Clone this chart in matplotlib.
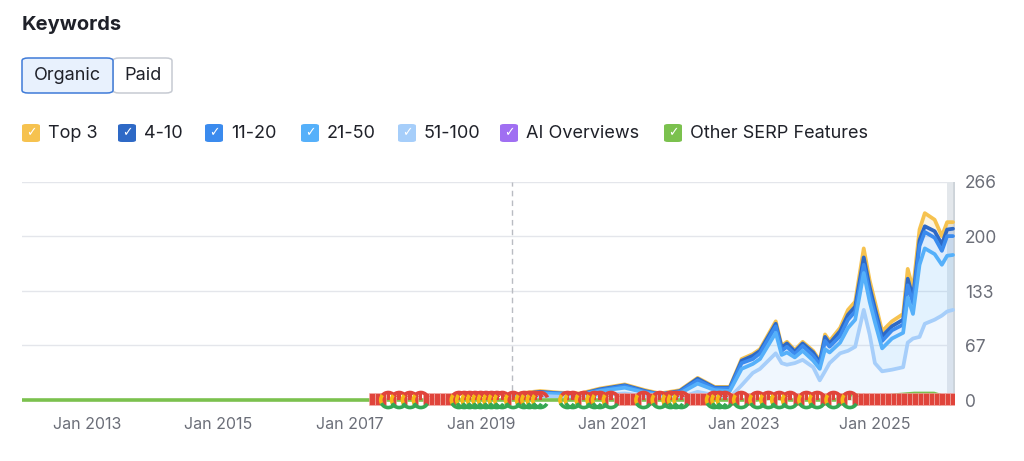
import matplotlib.pyplot as plt
from matplotlib.patches import FancyBboxPatch
from matplotlib.path import Path
import numpy as np

plt.rcParams["font.family"] = ["Inter", "DejaVu Sans"]

# dates as decimal years
dates = [2019.37, 2019.59, 2019.90, 2020.20, 2020.51, 2020.81, 2021.19, 2021.50,
         2021.73, 2022.03, 2022.30, 2022.56, 2022.79, 2022.97, 2023.14, 2023.25,
         2023.49, 2023.58, 2023.66, 2023.78, 2023.90, 2024.06, 2024.16, 2024.24,
         2024.31, 2024.47, 2024.59, 2024.70, 2024.83, 2024.92, 2025.00, 2025.11,
         2025.26, 2025.43, 2025.50, 2025.58, 2025.68, 2025.76, 2025.91, 2026.02,
         2026.10, 2026.19]

kw_51_100 = [0, 3, 5, 4, 3, 6, 8, 5, 3, 3, 10, 6, 3, 18, 33, 38, 57, 45, 43, 45, 49,
             40, 24, 35, 45, 57, 60, 65, 110, 80, 45, 35, 37, 40, 70, 75, 77, 93, 98,
             103, 108, 110]
kw_21_50 = [0, 3, 3, 3, 3, 5, 7, 4, 3, 5, 10, 6, 8, 20, 11, 12, 25, 10, 15, 7, 11,
            8, 14, 27, 13, 13, 28, 33, 45, 40, 50, 28, 38, 42, 55, 30, 88, 92, 80,
            62, 68, 67]
kw_11_20 = [0, 1, 1, 1, 1, 1, 2, 1, 1, 2, 4, 2, 3, 7, 6, 7, 8, 5, 7, 4, 6, 6, 5, 10,
            7, 8, 10, 10, 10, 10, 10, 9, 10, 10, 15, 13, 23, 20, 20, 17, 24, 23]
kw_4_10 = [0, 0, 1, 0, 0, 1, 1, 1, 0, 1, 2, 1, 1, 3, 4, 3, 3, 4, 4, 3, 3, 4, 3, 5,
           4, 6, 6, 6, 9, 8, 7, 6, 5, 6, 8, 7, 7, 7, 8, 8, 8, 9]
top3 = [0, 1, 1, 1, 1, 1, 1, 1, 1, 1, 1, 1, 1, 2, 2, 2, 3, 2, 2, 2, 2, 2, 2, 3, 3,
        4, 6, 6, 11, 8, 8, 6, 6, 7, 12, 10, 13, 16, 14, 10, 9, 8]

serp_dates = [2012.01, 2023.20, 2023.45, 2023.70, 2024.40, 2024.55, 2024.75, 2024.95,
              2025.30, 2025.60, 2025.90, 2026.10, 2026.19]
serp_values = [0, 0, 3, 0, 0, 7, 6, 0, 6, 8, 8, 3, 0]
ai_dates = [2025.30, 2025.50, 2025.70, 2025.90, 2026.00]
ai_values = [0, 4, 6, 3, 0]

# SERP feature icons along the baseline: r = red icon, g = google icon, . = none
icon_start, icon_end = 2017.34, 2026.19
icon_pattern = ("rrrgrgrgrgrrrrrrgggggggggr" "grgggg" "...."
                "ggrgrggrgrrrrrgrrgrgggrrrrrgggrrgrrgrgrgrgrrgrgrr"
                "grrgrrrrrrrrrrrrrrrrrrr")

year_ticks = [2013, 2015, 2017, 2019, 2021, 2023, 2025]
y_ticks = [0, 67, 133, 200, 266]

names = ["Top 3", "4-10", "11-20", "21-50", "51-100", "AI Overviews", "Other SERP Features"]
colors = ["#f6c24f", "#2e69c6", "#3b8bee", "#55b0fa", "#a6cefa", "#a06ff2", "#7bc14e"]

fig = plt.figure(figsize=(10.24, 4.61), dpi=100)
fig.patch.set_facecolor("white")

# header
fig.text(22 / 1024, 1 - 25 / 461, "Keywords", fontsize=14.5, fontweight="bold",
         color="#1f2129", va="center", ha="left")

def button(x0, x1, label, face, edge):
    box = FancyBboxPatch((x0 / 1024, 1 - 93 / 461), (x1 - x0) / 1024, 35 / 461,
                         boxstyle="round,pad=0,rounding_size=0.006",
                         transform=fig.transFigure, facecolor=face, edgecolor=edge,
                         linewidth=1.1)
    fig.patches.append(box)
    fig.text((x0 + x1) / 2 / 1024, 1 - 76 / 461, label, fontsize=13, color="#1f2129",
             ha="center", va="center")

button(113, 172, "Paid", "white", "#c6cad2")
button(22, 113, "Organic", "#e8f1fd", "#3f7bd8")

# legend row
legend_x = [22, 118, 205, 301, 398, 500, 664]
for lx, name, c in zip(legend_x, names, colors):
    sq = FancyBboxPatch((lx / 1024, 1 - 142 / 461), 18 / 1024, 18 / 461,
                        boxstyle="round,pad=0,rounding_size=0.004",
                        transform=fig.transFigure, facecolor=c, edgecolor="none")
    fig.patches.append(sq)
    fig.text((lx + 9) / 1024, 1 - 133 / 461, "\u2713", fontsize=9, color="white",
             fontweight="bold", ha="center", va="center", family="DejaVu Sans")
    fig.text((lx + 26) / 1024, 1 - 133 / 461, name, fontsize=13, color="#1f2129",
             ha="left", va="center")

ax = fig.add_axes([22 / 1024, 1 - 410 / 461, (955 - 22) / 1024, (410 - 182) / 461])
ax.set_xlim(2012.01, 2026.22)
ax.set_ylim(-12.2, 266)
for s in ax.spines.values():
    s.set_visible(False)

for yv in y_ticks[1:]:
    ax.axhline(yv, color="#e4e6eb", lw=1, zorder=0)
ax.axvline(2019.47, ymin=12.2 / 278.2, ymax=1, color="#b9bcc2", lw=1,
           linestyle=(0, (4, 3)), zorder=1)

# stacked keyword series
series = [kw_51_100, kw_21_50, kw_11_20, kw_4_10, top3]
ser_colors = [colors[4], colors[3], colors[2], colors[1], colors[0]]
d = np.array(dates)
cum = np.cumsum(np.array(series, dtype=float), axis=0)
prev = np.zeros(len(dates))
for i, c in enumerate(ser_colors):
    ax.fill_between(d, prev, cum[i], color=c, alpha=0.16, lw=0, zorder=2)
    prev = cum[i]
for i in [4, 3, 2, 1, 0]:
    ax.plot(d, cum[i], color=ser_colors[i], lw=2.7, solid_capstyle="round",
            solid_joinstyle="round", zorder=3 + (4 - i) * 0.1)

ax.fill_between(ai_dates, 0, ai_values, color=colors[5], alpha=0.5, lw=0, zorder=3.5)
ax.plot(ai_dates, ai_values, color=colors[5], lw=2, zorder=3.6)
ax.fill_between(serp_dates, 0, serp_values, color=colors[6], alpha=0.4, lw=0, zorder=3.6)
ax.plot(serp_dates, serp_values, color=colors[6], lw=2.6, zorder=3.7)

# SERP feature icons
pos = np.linspace(icon_start, icon_end, len(icon_pattern))
red_x = [p for p, ch in zip(pos, icon_pattern) if ch == "r"]
g_x = [p for p, ch in zip(pos, icon_pattern) if ch == "g"]
ax.bar(red_x, 14, bottom=-5.5, width=0.085, color="#e0443b", edgecolor="#f3b0ab",
       linewidth=0.4, zorder=5)
ax.bar(g_x, 9, bottom=0, width=0.05, color="#e0443b", zorder=5)
arc_red = Path.arc(20, 150)
arc_yel = Path.arc(140, 215)
arc_grn = Path.arc(205, 330)
gy = [0] * len(g_x)
for arc, col in [(arc_red, "#e0443b"), (arc_yel, "#f5b915"), (arc_grn, "#35a853")]:
    ax.scatter(g_x, gy, s=120, marker=arc, facecolors="none", edgecolors=col,
               linewidths=2.6, zorder=6)

# current period band
ax.axvspan(2026.10, 2026.22, ymin=12.2 / 278.2, color="#e3e7eb", zorder=1.5, lw=0)
ax.axvline(2026.20, ymin=12.2 / 278.2, color="#cdd3d9", lw=2, zorder=1.6)

ax.set_xticks(year_ticks)
ax.set_xticklabels([f"Jan {y}" for y in year_ticks])
ax.yaxis.tick_right()
ax.set_yticks(y_ticks)
ax.set_yticklabels([str(v) for v in y_ticks])
ax.tick_params(axis="both", length=0, labelsize=12.5, colors="#6b6e78")
ax.tick_params(axis="x", pad=5, labelsize=11.5)
ax.tick_params(axis="y", pad=7)

fig.savefig("out.png", dpi=100, facecolor="white")
